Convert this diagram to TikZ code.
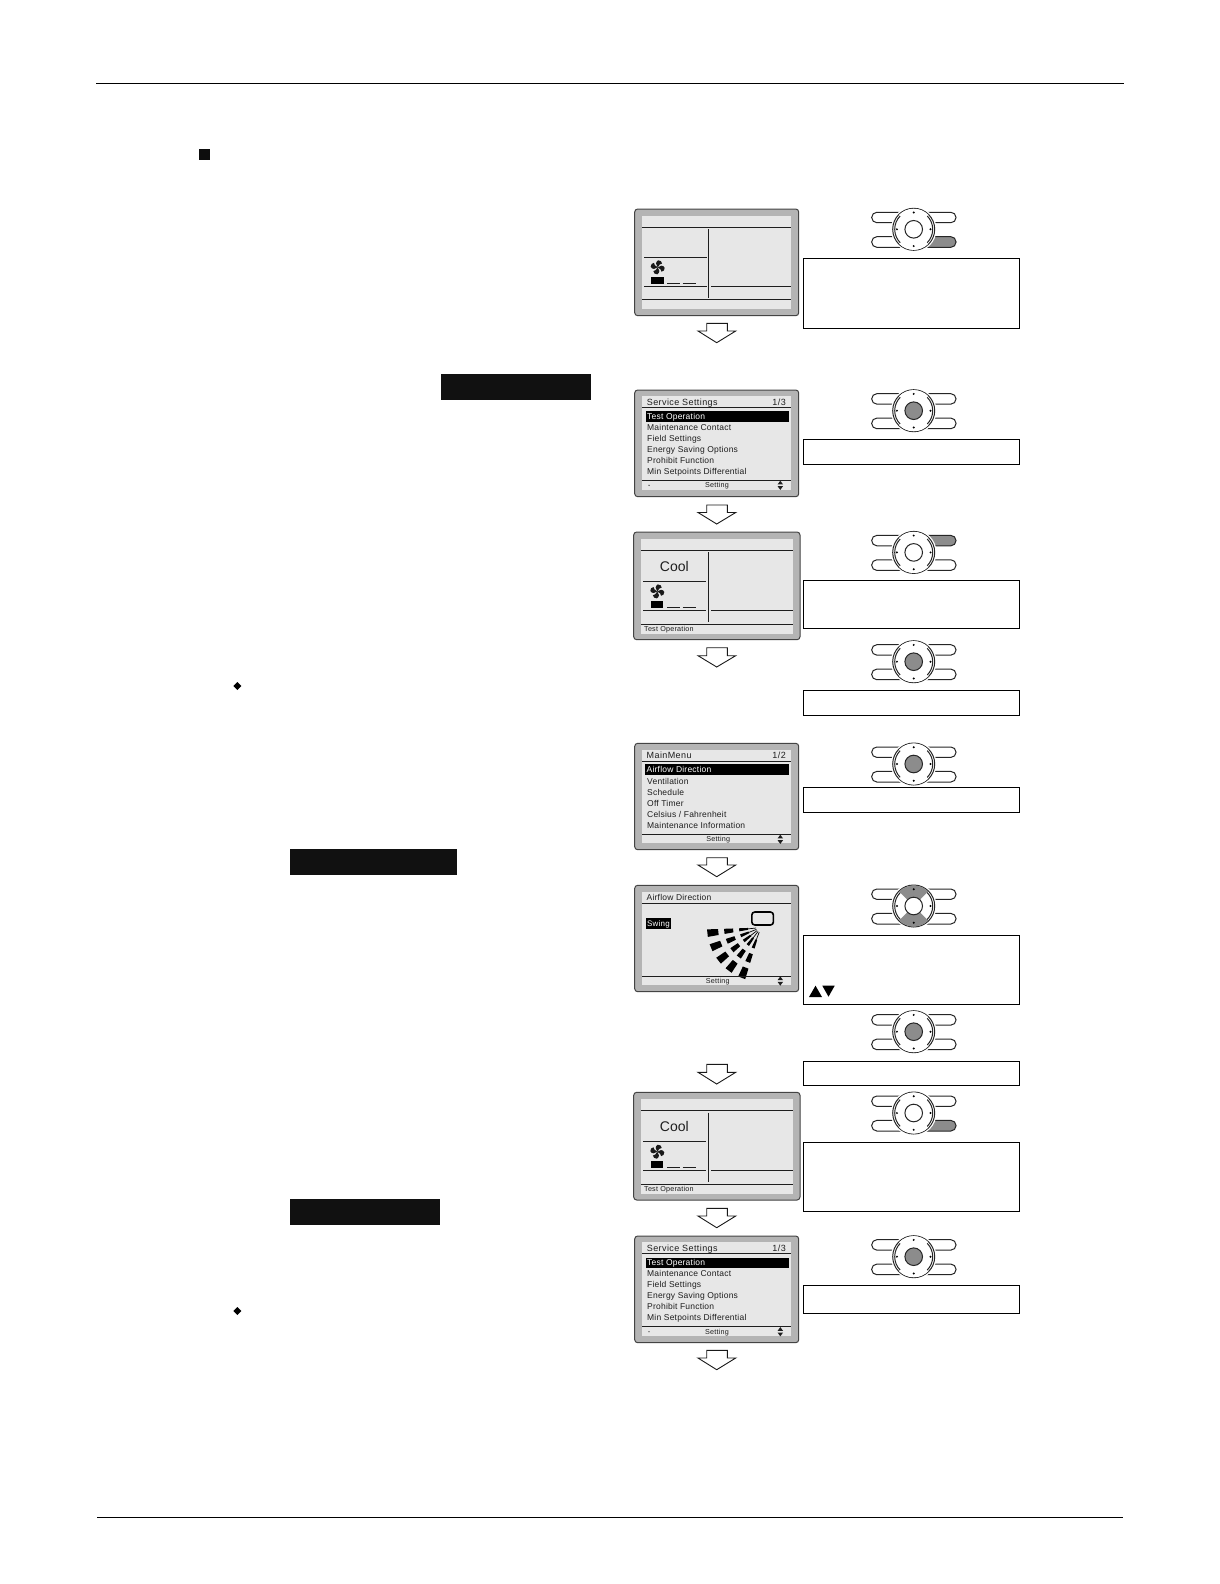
\documentclass[tikz,border=0pt]{standalone}
\usepackage{fontspec}
\setmainfont{Liberation Sans}
\newfontfamily\lcdtitle[LetterSpace=4.5]{Liberation Sans}
\newfontfamily\lcditem[LetterSpace=2.5]{Liberation Sans}
\newfontfamily\lcdsmall[LetterSpace=3]{Liberation Sans}
\definecolor{lcdbg}{HTML}{E7E7E7}
\definecolor{lcdframe}{HTML}{B4B4B4}
\definecolor{lcdedge}{HTML}{444444}
\definecolor{hlgray}{HTML}{8C8C8C}
\definecolor{barblack}{HTML}{111111}
\definecolor{lcdink}{HTML}{1E1E1E}
\tikzset{
  pagerule/.style={line width=1.2pt,black},
  calloutbox/.style={draw=black,line width=0.9pt,fill=white},
  lcdline/.style={line width=0.8pt,lcdink},
  titletext/.style={anchor=west,inner sep=0pt,text=lcdink,text height=6.4pt,text depth=0pt,font=\fontsize{9}{11}\selectfont\lcdtitle},
  itemtext/.style={anchor=west,inner sep=0pt,text=lcdink,text height=6pt,text depth=0pt,font=\fontsize{8.5}{10}\selectfont\lcditem},
  smalltext/.style={inner sep=0pt,text=lcdink,text height=5.2pt,text depth=0pt,font=\fontsize{7.2}{9}\selectfont\lcdsmall},
  cooltext/.style={inner sep=0pt,text=lcdink,font=\fontsize{14}{16}\selectfont},
  padline/.style={line width=1pt,draw=black!85},
  hollowarrow/.style={draw=black!90,line width=0.9pt,fill=white,line join=miter},
}
% frame: x0 y0 x1 y1, inner inset
\newcommand{\lcdscreen}[8]{%
  \draw[lcdedge,line width=1pt,fill=lcdframe,rounded corners=3pt] (#1,#2) rectangle (#3,#4);
  \fill[lcdbg] (#5,#6) rectangle (#7,#8);
}
% hollow down arrow: top, shoulder, tip
\newcommand{\hollowdown}[3]{%
  \draw[hollowarrow] (706.7,#1) -- (727.3,#1) -- (727.3,#2) -- (735.7,#2) -- (716.7,#3) -- (698,#2) -- (706.7,#2) -- cycle;
}
\newcommand{\callout}[2]{\draw[calloutbox] (803.5,#1) rectangle (1019.7,#2);}
% fan at x y
\newcommand{\lcdfan}[2]{%
  \begin{scope}[shift={(#1,#2)}]
    \foreach \r in {0,90,180,270}{
      \fill[black!90,rotate=\r] (0,0) .. controls (-2,-2) and (-2.5,-5.5) .. (0.5,-7) .. controls (2.5,-7.3) and (4.5,-5.5) .. (4.4,-3.8) .. controls (2.8,-3.8) and (1.2,-2.5) .. (0,0);
    }
  \end{scope}
}
% level meter: block x0 x1, y0 y1, dash y
\newcommand{\lcdmeter}[5]{%
  \fill[black] (#1,#3) rectangle (#2,#4);
  \draw[lcdline,line width=1pt] (667,#5) -- (680,#5) (682.5,#5) -- (695.5,#5);
}
\newcommand{\lcdupdown}[1]{%
  \fill[lcdink] (780.3,#1-4.6) -- (783,#1-0.9) -- (777.6,#1-0.9) -- cycle;
  \fill[lcdink] (780.3,#1+4.6) -- (783,#1+0.9) -- (777.6,#1+0.9) -- cycle;
}
% dpad: y, top-right pill, bottom-right pill, centre, ring wedge
\newcommand{\dpad}[5]{%
  \begin{scope}[shift={(913.7,#1)}]
    \draw[padline,fill=white,rounded corners=5.1pt] (-42,-17) rectangle (-5,-6.6);
    \draw[padline,fill=white,rounded corners=5.1pt] (-42,7.4) rectangle (-5,18);
    \draw[padline,fill=#2,rounded corners=5.1pt] (5,-17) rectangle (42.3,-6.6);
    \draw[padline,fill=#3,rounded corners=5.1pt] (5,7.4) rectangle (42.3,18);
    \fill[white] (0,0) circle [radius=22.8];
    \draw[padline,fill=white] (0,0) circle [radius=21];
    \draw[padline] (0,0) circle [radius=19];
    \fill[#5] (45:8.7) arc (45:135:8.7) -- (135:20.6) arc (135:45:20.6) -- cycle;
    \fill[#5] (225:8.7) arc (225:315:8.7) -- (315:20.6) arc (315:225:20.6) -- cycle;
    \draw[padline,fill=#4] (0,0) circle [radius=8.8];
    \foreach \a in {0,90,180,270}{\fill[black] (\a:16.8) circle [radius=1.1];}
  \end{scope}
}
\begin{document}
\begin{tikzpicture}[x=1pt,y=-1pt]
\useasboundingbox (0,0) rectangle (1220,1584);
\fill[white] (0,0) rectangle (1220,1584);
% page rules and marks
\draw[pagerule] (96,83.5) -- (1124,83.5);
\draw[pagerule] (97,1517.3) -- (1122.7,1517.3);
\fill[black!95] (199,149) rectangle (210,160);
\fill[black] (237.3,682) -- (241.3,686) -- (237.3,690) -- (233.3,686) -- cycle;
\fill[black] (237.3,1307) -- (241.3,1311) -- (237.3,1315) -- (233.3,1311) -- cycle;
\fill[barblack] (441,374) rectangle (591,400);
\fill[barblack] (290,849) rectangle (457,875);
\fill[barblack] (290,1199) rectangle (440,1225);

% ---------- screen 1
\lcdscreen{634.7}{209}{798.7}{315.7}{642}{216}{791}{309.3}
\draw[lcdline] (642,227.3) -- (791,227.3) (642,299.3) -- (791,299.3);
\draw[lcdline] (708.3,229) -- (708.3,297.7);
\draw[lcdline] (644,257) -- (707,257) (644,286.3) -- (707,286.3) (711,286.3) -- (791,286.3);
\lcdfan{657.7}{267.3}
\lcdmeter{651}{664}{277}{284}{283.5}
\hollowdown{323.3}{331}{342.7}

% ---------- screen 2
\lcdscreen{634.7}{390}{798.7}{496.7}{642}{396}{791}{490}
\node[titletext] (s2title) at (646.7,402) {Service Settings};
\node[titletext,anchor=east] (s2page) at (786,402) {1/3};
\draw[lcdline] (642,407.3) -- (791,407.3);
\fill[black] (646,411) rectangle (789,422);
\node[itemtext,text=white] (s2a) at (647,416.7) {Test Operation};
\node[itemtext] (s2b) at (647,427.7) {Maintenance Contact};
\node[itemtext] (s2c) at (647,438.7) {Field Settings};
\node[itemtext] (s2d) at (647,449.7) {Energy Saving Options};
\node[itemtext] (s2e) at (647,460.7) {Prohibit Function};
\node[itemtext] (s2f) at (647,471.7) {Min Setpoints Differential};
\draw[lcdline] (642,480) -- (791,480);
\fill[lcdink] (649,485.3) circle [radius=0.7];
\node[smalltext] (s2set) at (717,485.3) {Setting};
\lcdupdown{485.3}
\hollowdown{505}{512.5}{524}

% ---------- screen 3
\lcdscreen{633.7}{532}{800}{639.7}{641}{538.7}{793}{633.7}
\draw[lcdline] (641,550.4) -- (793,550.4) (641,624) -- (793,624);
\draw[lcdline] (708.3,552.4) -- (708.3,622);
\draw[lcdline] (643,581) -- (706,581) (643,610) -- (706,610) (711,610) -- (793,610);
\node[cooltext] (s3cool) at (674.3,566.4) {Cool};
\lcdfan{657.3}{591.4}
\lcdmeter{651}{663}{600.7}{607.7}{607.4}
\node[smalltext,anchor=west] (s3test) at (644,629) {Test Operation};
\hollowdown{647.7}{655.7}{667}

% ---------- screen 4
\lcdscreen{634.7}{743.3}{798.7}{849.7}{642}{750}{791}{843}
\node[titletext] (s4title) at (646.5,755.3) {MainMenu};
\node[titletext,anchor=east] (s4page) at (786,755.3) {1/2};
\draw[lcdline] (642,761.3) -- (791,761.3);
\fill[black] (645,764.3) rectangle (789,775);
\node[itemtext,text=white] (s4a) at (646.5,769.7) {Airflow Direction};
\node[itemtext] (s4b) at (647,781) {Ventilation};
\node[itemtext] (s4c) at (647,792) {Schedule};
\node[itemtext] (s4d) at (647,803.3) {Off Timer};
\node[itemtext] (s4e) at (647,814.3) {Celsius / Fahrenheit};
\node[itemtext] (s4f) at (647,825) {Maintenance Information};
\draw[lcdline] (642,834.3) -- (791,834.3);
\node[smalltext] (s4set) at (718.3,839.3) {Setting};
\lcdupdown{839.3}
\hollowdown{857.7}{865}{876.7}

% ---------- screen 5
\lcdscreen{634.7}{885.3}{798.7}{991.7}{642}{892.3}{791}{985}
\node[titletext,font=\fontsize{8.5}{10}\selectfont\lcditem] (s5title) at (646.5,897.7) {Airflow Direction};
\draw[lcdline] (642,903.3) -- (791,903.3);
\fill[black] (646,917.7) rectangle (670.7,928.7);
\node[itemtext,text=white,font=\fontsize{8}{10}\selectfont\lcditem] (s5swing) at (647,923.2) {Swing};
\draw[black,line width=1.6pt,rounded corners=3pt] (751.8,912) rectangle (773.4,925);
\begin{scope}[shift={(761,927.5)}]
  \foreach \a in {174,158,142,127,111}{
    \fill[black] (\a-4:43) -- (\a+4:43) -- (\a+4:54) -- (\a-4:54) -- cycle;
    \fill[black] (\a-4:28) -- (\a+4:28) -- (\a+4:37) -- (\a-4:37) -- cycle;
    \fill[black] (\a-4:13) -- (\a+4:13) -- (\a+4:22) -- (\a-4:22) -- cycle;
    \draw[black,line width=0.7pt] (\a:5) -- (\a:13);
  }
\end{scope}
\draw[lcdline] (642,976.3) -- (791,976.3);
\node[smalltext] (s5set) at (717.7,981) {Setting};
\lcdupdown{981}
\hollowdown{1064.3}{1072.3}{1084}

% ---------- screen 6
\lcdscreen{633.7}{1092.3}{800}{1200}{641}{1099}{793}{1194}
\draw[lcdline] (641,1110.7) -- (793,1110.7) (641,1184.3) -- (793,1184.3);
\draw[lcdline] (708.3,1112.7) -- (708.3,1182.3);
\draw[lcdline] (643,1141.3) -- (706,1141.3) (643,1170.3) -- (706,1170.3) (711,1170.3) -- (793,1170.3);
\node[cooltext] (s6cool) at (674.3,1126.7) {Cool};
\lcdfan{657.3}{1151.7}
\lcdmeter{651}{663}{1161}{1168}{1167.7}
\node[smalltext,anchor=west] (s6test) at (644,1189.3) {Test Operation};
\hollowdown{1208.3}{1216}{1227.7}

% ---------- screen 7
\lcdscreen{634.7}{1236}{798.7}{1342.7}{642}{1242}{791}{1336}
\node[titletext] (s7title) at (646.7,1248.3) {Service Settings};
\node[titletext,anchor=east] (s7page) at (786,1248.3) {1/3};
\draw[lcdline] (642,1253.7) -- (791,1253.7);
\fill[black] (646,1258) rectangle (789,1268);
\node[itemtext,text=white] (s7a) at (647,1262.9) {Test Operation};
\node[itemtext] (s7b) at (647,1273.7) {Maintenance Contact};
\node[itemtext] (s7c) at (647,1284.7) {Field Settings};
\node[itemtext] (s7d) at (647,1295.7) {Energy Saving Options};
\node[itemtext] (s7e) at (647,1306.7) {Prohibit Function};
\node[itemtext] (s7f) at (647,1317.7) {Min Setpoints Differential};
\draw[lcdline] (642,1326.3) -- (791,1326.3);
\fill[lcdink] (649,1331.7) circle [radius=0.7];
\node[smalltext] (s7set) at (717,1331.7) {Setting};
\lcdupdown{1331.7}
\hollowdown{1350.3}{1358}{1369.7}

% ---------- remote-control pads and callouts
\dpad{229.3}{white}{hlgray}{white}{white}
\callout{258.3}{328.7}
\dpad{410.7}{white}{white}{hlgray}{white}
\callout{439.3}{464.3}
\dpad{552.4}{hlgray}{white}{white}{white}
\callout{580.7}{628.2}
\dpad{661.7}{white}{white}{hlgray}{white}
\callout{690.3}{715.7}
\dpad{764}{white}{white}{hlgray}{white}
\callout{787.3}{812.7}
\dpad{906}{white}{white}{white}{hlgray}
\callout{935.3}{1004.7}
\fill[black] (809,997) -- (815.5,985.7) -- (822,997) -- cycle;
\fill[black] (822.3,985.7) -- (834.7,985.7) -- (828.5,996.7) -- cycle;
\dpad{1031.7}{white}{white}{hlgray}{white}
\callout{1061.3}{1085.3}
\dpad{1113}{white}{hlgray}{white}{white}
\callout{1142.3}{1211.7}
\dpad{1256.7}{white}{white}{hlgray}{white}
\callout{1285.3}{1313.7}
\end{tikzpicture}
\end{document}
